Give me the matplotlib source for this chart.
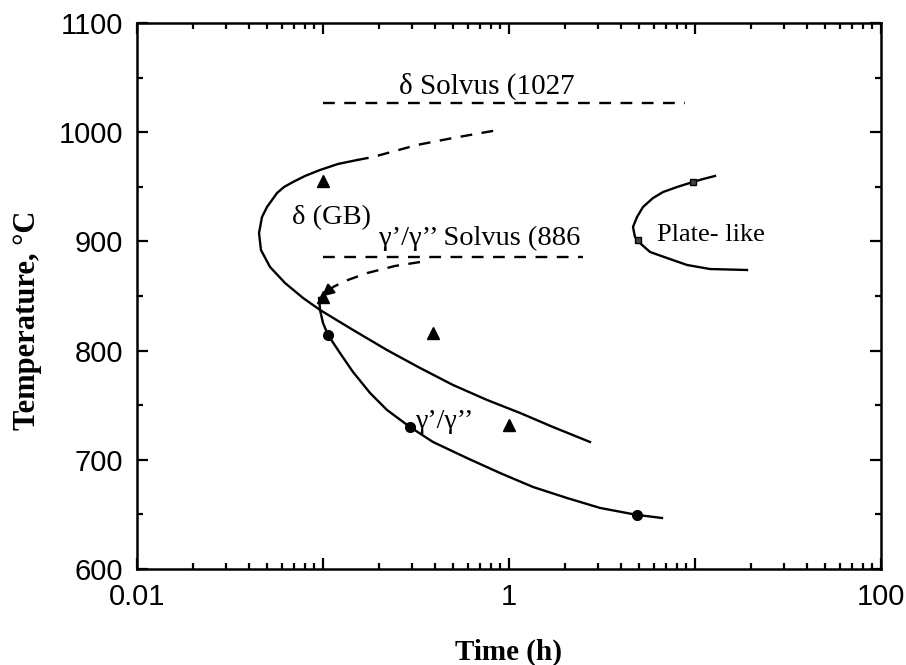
import numpy as np
import matplotlib
matplotlib.use("Agg")
import matplotlib.pyplot as plt
from matplotlib.ticker import FixedLocator, LogLocator, NullFormatter, MultipleLocator

# delta (grain boundary) C-curve, solid part
delta_t = [0.1524, 0.1204, 0.0964, 0.0800, 0.0690, 0.0617, 0.0566, 0.0500, 0.0470,
           0.0453, 0.0464, 0.0519, 0.0625, 0.0781, 0.0964, 0.1450, 0.2209, 0.3323,
           0.500, 0.7615, 1.146, 1.724, 2.726]
delta_T = [974.5, 970.9, 965.4, 959.9, 954.4, 949.8, 944.3, 931.5, 922.3,
           907.7, 892.1, 876.6, 861.9, 848.2, 837.2, 818.9, 800.5, 784.1,
           768.5, 754.8, 742.9, 730.0, 716.3]

# dashed continuation of the delta curve
delta_ext_t = [0.1524, 0.1857, 0.2438, 0.3201, 0.500, 0.8727]
delta_ext_T = [974.5, 977.3, 982.8, 988.3, 994.7, 1002]

# gamma'/gamma'' dashed branch ending in an arrow
gp_dash_t = [0.3323, 0.2438, 0.1727, 0.1313, 0.1133]
gp_dash_T = [881.1, 877.5, 871.0, 863.7, 858.2]
gp_arrow_tip = (0.0985, 849.5)

# gamma'/gamma'' solid curve
gp_t = [0.0952, 0.0964, 0.1000, 0.1064, 0.1234, 0.1450, 0.1790, 0.2209, 0.2936,
        0.3904, 0.5944, 0.8945, 1.346, 2.050, 3.085, 4.877, 6.645]
gp_T = [848.2, 837.2, 825.3, 814.3, 797.8, 780.4, 761.2, 745.6, 730.0,
        716.3, 701.6, 687.9, 675.1, 665.0, 655.9, 649.5, 646.7]

# plate-like delta curve
plate_t = [12.81, 11.04, 9.755, 8.002, 6.73, 5.946, 5.253, 4.877, 4.642, 4.758,
           5.062, 5.73, 7.07, 9.06, 12.04, 19.04]
plate_T = [959.9, 957.1, 954.4, 949.8, 945.2, 939.7, 931.5, 922.3, 913.2, 904.0,
           898.5, 890.3, 884.8, 878.4, 874.7, 873.8]

# experimental points
tri_t = [0.1, 0.1, 0.39, 1.0]
tri_T = [955, 849, 816, 732]
circ_t = [0.1064, 0.2936, 4.877]
circ_T = [814.3, 730, 649]
sq_t = [9.755, 4.94]
sq_T = [954.4, 901]

# solvus lines
delta_solvus = 1027
delta_solvus_t = [0.1, 8.8]
gp_solvus = 886
gp_solvus_t = [0.1, 2.5]

fig = plt.figure(figsize=(9.06, 6.65), dpi=100)
ax = fig.add_axes([0.1512, 0.1444, 0.8212, 0.821])

lw = 1.7
dash = (5, 4)
ax.plot(delta_t, delta_T, color="k", lw=lw)
ax.plot(delta_ext_t, delta_ext_T, color="k", lw=lw, dashes=dash)
ax.plot(gp_t, gp_T, color="k", lw=lw)
ax.plot(gp_dash_t, gp_dash_T, color="k", lw=lw, dashes=dash)
ax.annotate("", xy=gp_arrow_tip, xytext=(gp_dash_t[-1], gp_dash_T[-1]),
            arrowprops=dict(arrowstyle="-|>,head_length=0.7,head_width=0.35",
                            color="k", lw=lw, shrinkA=0, shrinkB=0))
ax.plot(plate_t, plate_T, color="k", lw=lw)

ax.plot(delta_solvus_t, [delta_solvus] * 2, color="k", lw=lw, dashes=dash)
ax.plot(gp_solvus_t, [gp_solvus] * 2, color="k", lw=lw, dashes=dash)

ax.plot(tri_t, tri_T, "k^", ms=9, ls="none")
ax.plot(circ_t, circ_T, "ko", ms=7, ls="none")
ax.plot(sq_t, sq_T, "ks", ms=5, ls="none", mfc="#444444")

serif = "Liberation Serif"
ax.text(0.762, 1042, "δ Solvus (1027", family=serif, fontsize=21, ha="center", va="center")
ax.text(0.698, 903, "γ’/γ’’ Solvus (886", family=serif, fontsize=20.5, ha="center", va="center")
ax.text(0.1116, 922, "δ (GB)", family=serif, fontsize=20.5, ha="center", va="center")
ax.text(12.2, 906, "Plate- like", family=serif, fontsize=19, ha="center", va="center")
ax.text(0.453, 735, "γ’/γ’’", family=serif, fontsize=20, ha="center", va="center")

ax.set_xscale("log")
ax.set_xlim(0.01, 100)
ax.set_ylim(600, 1100)
ax.xaxis.set_major_locator(FixedLocator([0.01, 0.1, 1, 10, 100]))
ax.set_xticklabels(["0.01", "", "1", "", "100"])
ax.xaxis.set_minor_locator(LogLocator(base=10, subs=np.arange(2, 10)))
ax.xaxis.set_minor_formatter(NullFormatter())
ax.yaxis.set_major_locator(MultipleLocator(100))
ax.yaxis.set_minor_locator(MultipleLocator(50))

ax.tick_params(which="both", direction="in", top=True, right=True, width=1.6, pad=10)
ax.tick_params(which="major", length=8, labelsize=21)
ax.tick_params(which="minor", length=4)
for lab in ax.get_xticklabels() + ax.get_yticklabels():
    lab.set_family("Liberation Sans")
for sp in ax.spines.values():
    sp.set_linewidth(1.8)

ax.set_xlabel("Time (h)", family=serif, fontweight="bold", fontsize=21, labelpad=20)
ax.set_ylabel("Temperature, °C", family=serif, fontweight="bold", fontsize=22)
ax.yaxis.set_label_coords(-0.128, 0.455)

fig.savefig("out.png", dpi=100)
